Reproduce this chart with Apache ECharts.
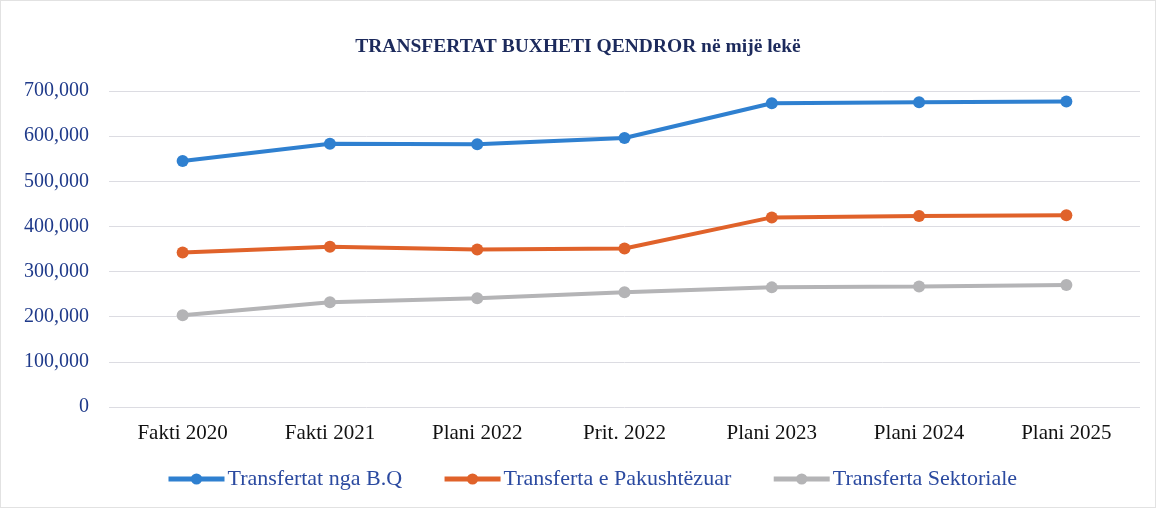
<!DOCTYPE html>
<html>
<head>
<meta charset="utf-8">
<script src="https://cdn.jsdelivr.net/npm/echarts@6/dist/echarts.min.js"></script>
<style>
  html, body { margin: 0; padding: 0; background: #fff; }
  #chart { width: 1156px; height: 508px; box-sizing: border-box; border: 1px solid #e2e2e2; }
</style>
</head>
<body>
<div id="chart"></div>
<script>
  // kategorite dhe vlerat (ne mije leke)
  const categories = ['Fakti 2020', 'Fakti 2021', 'Plani 2022', 'Prit. 2022', 'Plani 2023', 'Plani 2024', 'Plani 2025'];
  const transfertatBQ = [545000, 583000, 582000, 596000, 673000, 675000, 677000];
  const pakushtezuar = [342000, 355000, 349000, 351000, 420000, 423000, 425000];
  const sektoriale = [203000, 232000, 241000, 254000, 265000, 267000, 270000];
  const seriesNames = ['Transfertat nga B.Q', 'Transferta e Pakushtëzuar', 'Transferta Sektoriale'];
  const colors = ['#2f80d0', '#e0622a', '#b4b4b6'];

  const chart = echarts.init(document.getElementById('chart'));

  const makeLine = (name, data, color) => ({
    name: name,
    type: 'line',
    data: data,
    symbol: 'circle',
    symbolSize: 12,
    lineStyle: { width: 4, color: color },
    itemStyle: { color: color }
  });

  const options = {
    animation: false,
    textStyle: { fontFamily: 'Liberation Serif' },
    title: {
      text: 'TRANSFERTAT BUXHETI QENDROR në mijë lekë',
      left: 'center',
      top: 31,
      textStyle: { fontFamily: 'Liberation Serif', fontSize: 19.5, fontWeight: 'bold', color: '#1c2a5c' }
    },
    grid: { left: 108, right: 15, top: 90, bottom: 100 },
    legend: {
      bottom: 12,
      left: 160,
      itemWidth: 56,
      itemHeight: 14,
      itemGap: 40,
      lineStyle: { width: 5 },
      textStyle: { fontFamily: 'Liberation Serif', fontSize: 22, color: '#2b4aa0', padding: [0, 0, 0, -2] },
      data: seriesNames
    },
    xAxis: {
      type: 'category',
      data: categories,
      axisLine: { show: false },
      axisTick: { show: false },
      axisLabel: { fontFamily: 'Liberation Serif', fontSize: 21, color: '#111', margin: 16 }
    },
    yAxis: {
      type: 'value',
      min: 0,
      max: 700000,
      interval: 100000,
      axisLabel: {
        fontFamily: 'Liberation Serif',
        fontSize: 20,
        color: '#1f3a8a',
        margin: 20,
        formatter: v => v.toLocaleString('en-US')
      },
      splitLine: { lineStyle: { color: '#dcdce2', width: 1 } }
    },
    series: [
      makeLine(seriesNames[0], transfertatBQ, colors[0]),
      makeLine(seriesNames[1], pakushtezuar, colors[1]),
      makeLine(seriesNames[2], sektoriale, colors[2])
    ]
  };

  chart.setOption(options);
</script>
</body>
</html>
